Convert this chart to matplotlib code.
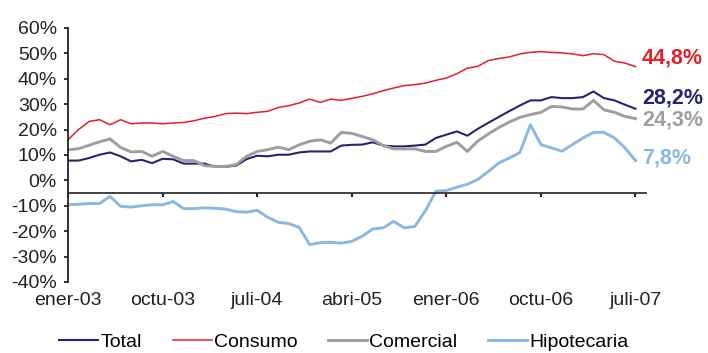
"""Morosidad / crecimiento del crédito por tipo, ener-03 .. juli-07."""
import matplotlib
matplotlib.use('Agg')
import matplotlib.pyplot as plt
from matplotlib.ticker import FixedLocator, FuncFormatter

# monthly values, Jan 2003 .. Jul 2007 (55 points)
TOTAL = [7.8, 7.8, 8.8, 10.1, 11.0, 9.5, 7.5, 8.1, 6.8, 8.5,
         8.3, 6.6, 6.6, 6.6, 5.4, 5.4, 5.8, 8.4, 9.7, 9.5,
         10.1, 10.1, 11.0, 11.4, 11.4, 11.4, 13.7, 14.0, 14.1, 15.0,
         13.7, 13.4, 13.4, 13.7, 14.1, 16.7, 18.0, 19.3, 17.6, 20.3,
         22.7, 25.0, 27.3, 29.5, 31.5, 31.5, 32.8, 32.4, 32.4, 32.8,
         35.0, 32.4, 31.5, 29.8, 28.2]
CONSUMO = [16.0, 20.0, 23.2, 23.9, 21.9, 23.9, 22.3, 22.6, 22.6, 22.3,
           22.6, 22.8, 23.5, 24.5, 25.2, 26.3, 26.5, 26.3, 26.8, 27.2,
           28.7, 29.4, 30.5, 32.0, 30.7, 32.0, 31.5, 32.3, 33.1, 34.1,
           35.3, 36.4, 37.3, 37.7, 38.3, 39.4, 40.3, 42.0, 44.2, 44.9,
           47.2, 48.0, 48.6, 49.8, 50.4, 50.7, 50.4, 50.2, 49.8, 49.1,
           49.9, 49.5, 46.9, 46.2, 44.8]
COMERCIAL = [12.0, 12.5, 13.8, 15.2, 16.3, 13.0, 11.2, 11.4, 9.5, 11.4,
             9.5, 7.8, 7.8, 5.8, 5.5, 5.5, 6.2, 9.5, 11.4, 12.1,
             13.1, 12.1, 14.0, 15.4, 16.0, 14.7, 18.9, 18.5, 17.3, 16.0,
             13.7, 12.4, 12.4, 12.4, 11.4, 11.4, 13.4, 15.0, 11.4, 15.5,
             18.3, 20.8, 23.0, 24.8, 25.9, 26.8, 29.1, 28.9, 28.1, 28.1,
             31.5, 27.8, 26.8, 25.2, 24.3]
HIPOTECARIA = [-9.6, -9.4, -9.1, -9.1, -6.3, -10.2, -10.5, -10.0, -9.6, -9.6,
               -8.3, -11.1, -11.1, -10.8, -11.0, -11.3, -12.3, -12.5, -11.8, -14.5,
               -16.5, -17.0, -18.5, -25.3, -24.5, -24.4, -24.7, -24.0, -22.0, -19.1,
               -18.7, -16.1, -18.7, -18.1, -12.0, -4.3, -4.0, -2.7, -1.5, 0.4,
               3.5, 6.9, 8.8, 11.0, 21.9, 14.1, 12.8, 11.5, 14.1, 16.7,
               18.9, 18.9, 16.7, 12.8, 7.8]

TICK_POS = [0, 9, 18, 27, 36, 45, 54]
TICK_LABELS = ['ener-03', 'octu-03', 'juli-04', 'abri-05', 'ener-06', 'octu-06', 'juli-07']
END_LABELS = ['28,2%', '44,8%', '24,3%', '7,8%']
END_Y = [32.6, 48.3, 23.9, 8.9]

SERIES = [('Total', TOTAL, '#25256e', 1.5),
          ('Consumo', CONSUMO, '#e3202c', 1.1),
          ('Comercial', COMERCIAL, '#9e9e9e', 2.1),
          ('Hipotecaria', HIPOTECARIA, '#8ab8de', 2.1)]

plt.rcParams['font.family'] = ['Liberation Sans', 'DejaVu Sans']
FS = 14

fig = plt.figure(figsize=(7.08, 3.53), dpi=100)
ax = fig.add_axes([68 / 708, 71 / 353, 578 / 708, 254 / 353])

x = list(range(len(TOTAL)))
for (name, vals, col, lw), lab, ly in zip(SERIES, END_LABELS, END_Y):
    ax.plot(x, vals, color=col, lw=lw, label=name, solid_joinstyle='round')
    ax.text(54.6, ly, lab, color=col, fontsize=15.5, fontweight='bold',
            ha='left', va='center', clip_on=False)

ax.set_xlim(0, 55)
ax.set_ylim(-40, 60)

for s in ['top', 'right']:
    ax.spines[s].set_visible(False)
ax.spines['bottom'].set_position(('data', -5))
ax.spines['left'].set_linewidth(1.3)
ax.spines['bottom'].set_linewidth(1.3)
ax.spines['left'].set_color('#222222')
ax.spines['bottom'].set_color('#333333')

ax.yaxis.set_major_locator(FixedLocator(range(-40, 61, 10)))
ax.yaxis.set_major_formatter(FuncFormatter(lambda v, p: f'{int(v)}%'))
ax.tick_params(axis='y', direction='out', length=3, width=1.3, pad=5,
               labelsize=FS, colors='#222222')

ax.set_xticks(TICK_POS)
ax.tick_params(axis='x', direction='out', length=3, width=1.5,
               labelbottom=False, colors='#222222')
for p, lab in zip(TICK_POS, TICK_LABELS):
    ax.text(p, -0.071, lab, transform=ax.get_xaxis_transform(),
            ha='center', va='center', fontsize=FS, color='#222222')

fig.legend(loc='center', bbox_to_anchor=(344 / 708, 11 / 353), ncol=4,
           frameon=False, fontsize=FS, handlelength=2.0, handletextpad=0.1,
           columnspacing=1.6, borderaxespad=0)

fig.savefig('out.png', dpi=100)
